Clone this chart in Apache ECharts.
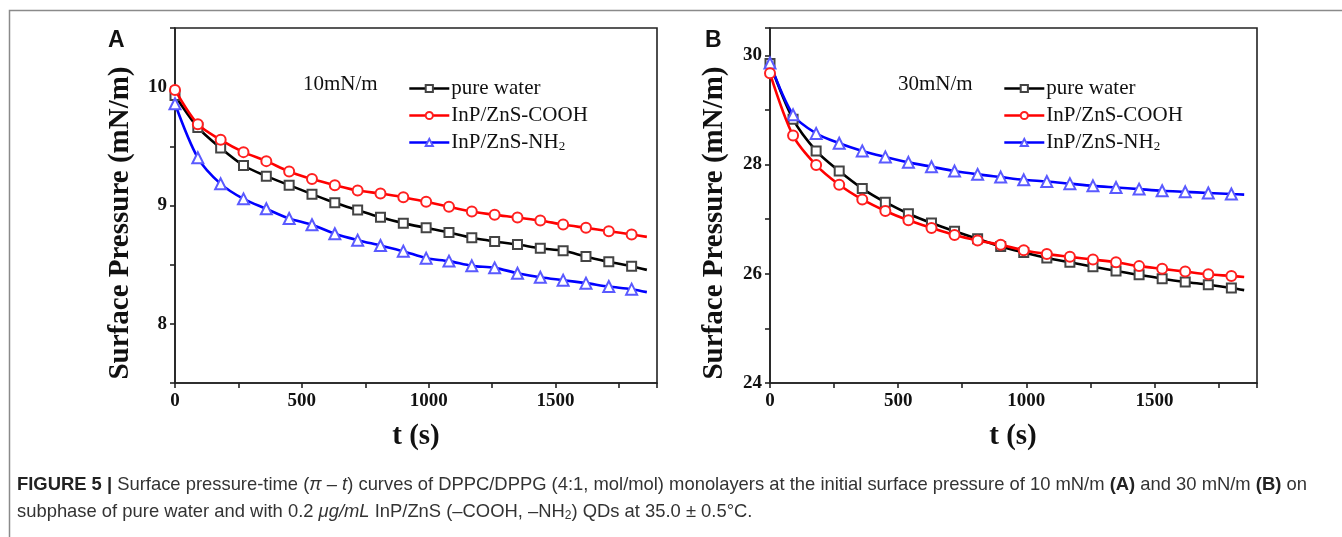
<!DOCTYPE html>
<html>
<head>
<meta charset="utf-8">
<script src="https://cdn.jsdelivr.net/npm/echarts@6/dist/echarts.min.js"></script>
<style>
html,body{margin:0;padding:0;background:#fff;}
#chart{width:1342px;height:537px;}
</style>
</head>
<body>
<div id="chart"></div>
<script>
// ---- data ----
const timesA = [0, 90, 180, 270, 360, 450, 540, 630, 720, 810, 900, 990, 1080, 1170, 1260, 1350, 1440, 1530, 1620, 1710, 1800, 1860];
const waterA = [9.93, 9.66, 9.485, 9.338, 9.248, 9.172, 9.096, 9.023, 8.961, 8.901, 8.851, 8.811, 8.772, 8.727, 8.696, 8.670, 8.639, 8.617, 8.569, 8.524, 8.487, 8.456];
const coohA  = [9.977, 9.687, 9.555, 9.451, 9.375, 9.287, 9.223, 9.172, 9.127, 9.101, 9.070, 9.031, 8.989, 8.949, 8.921, 8.899, 8.873, 8.839, 8.811, 8.783, 8.755, 8.735];
const nh2A   = [9.86, 9.403, 9.183, 9.056, 8.972, 8.890, 8.837, 8.761, 8.707, 8.662, 8.614, 8.555, 8.530, 8.490, 8.473, 8.428, 8.394, 8.369, 8.344, 8.315, 8.293, 8.268];

const timesB = [0, 90, 180, 270, 360, 450, 540, 630, 720, 810, 900, 990, 1080, 1170, 1260, 1350, 1440, 1530, 1620, 1710, 1800, 1850];
const waterB = [29.85, 28.83, 28.25, 27.88, 27.56, 27.31, 27.10, 26.93, 26.78, 26.64, 26.50, 26.39, 26.29, 26.21, 26.13, 26.05, 25.98, 25.91, 25.85, 25.80, 25.74, 25.70];
const coohB  = [29.67, 28.53, 27.99, 27.63, 27.36, 27.15, 26.98, 26.84, 26.71, 26.61, 26.53, 26.43, 26.36, 26.31, 26.26, 26.21, 26.14, 26.09, 26.04, 25.99, 25.96, 25.94];
const nh2B   = [29.86, 28.91, 28.57, 28.39, 28.25, 28.14, 28.04, 27.96, 27.88, 27.82, 27.77, 27.72, 27.69, 27.65, 27.61, 27.58, 27.55, 27.52, 27.50, 27.48, 27.46, 27.45];

const seriesNames = ['pure water', 'InP/ZnS-COOH', 'InP/ZnS-NH2'];
const xTicks = [0, 500, 1000, 1500];
const yTicksA = [8, 9, 10];
const yTicksB = [24, 26, 28, 30];

// ---- styles ----
const serif = '"Liberation Serif","Times New Roman",serif';
const lineColors = ['#000000', '#ff0000', '#0000ff'];
const markerColors = ['#444444', '#ff2020', '#5a5aff'];
const symbols = ['emptyRect', 'emptyCircle', 'emptyTriangle'];
const symbolSizes = [9, 10, 11];

function toData(times, vals) {
  return times.map((t, i) => {
    const isLastExtra = i === times.length - 1;
    return isLastExtra ? { value: [t, vals[i]], symbol: 'none' } : [t, vals[i]];
  });
}

function makeSeries(k, xi, times, vals) {
  return {
    name: seriesNames[k],
    type: 'line',
    xAxisIndex: xi,
    yAxisIndex: xi,
    data: toData(times, vals),
    smooth: 0.3,
    symbol: symbols[k],
    symbolSize: symbolSizes[k],
    showAllSymbol: true,
    lineStyle: { color: lineColors[k], width: 2.6 },
    itemStyle: { color: markerColors[k], borderWidth: 1.2 },
    emphasis: { disabled: true },
    z: 2 + (k === 1 ? 1 : 0)
  };
}

const axisLineStyle = { color: '#222', width: 1.6 };

function xAxis(gi) {
  return {
    type: 'value', gridIndex: gi, min: 0, max: 1900, interval: 250,
    axisLine: { show: true, lineStyle: axisLineStyle },
    axisTick: { show: true, length: 5, lineStyle: axisLineStyle },
    axisLabel: {
      margin: 9, fontFamily: serif, fontWeight: 'bold', fontSize: 19, color: '#111',
      formatter: v => xTicks.includes(v) ? String(v) : ''
    },
    splitLine: { show: false }
  };
}

function yAxis(gi, min, max, interval, ticks) {
  return {
    type: 'value', gridIndex: gi, min: min, max: max, interval: interval,
    axisLine: { show: true, lineStyle: axisLineStyle },
    axisTick: { show: true, length: 5, lineStyle: axisLineStyle },
    axisLabel: {
      margin: 8, fontFamily: serif, fontWeight: 'bold', fontSize: 19, color: '#111',
      formatter: v => ticks.some(t => Math.abs(t - v) < 1e-9) ? String(v) : ''
    },
    splitLine: { show: false }
  };
}

function legend(left) {
  return {
    orient: 'vertical', left: left, top: 73,
    itemWidth: 40, itemHeight: 9, itemGap: 6,
    data: seriesNames,
    selectedMode: false,
    lineStyle: { width: 2.6 },
    textStyle: {
      fontFamily: serif, fontSize: 21, color: '#111', lineHeight: 21, padding: [0, 0, 0, -3],
      rich: { sub: { fontFamily: serif, fontSize: 13, color: '#111', verticalAlign: 'bottom', padding: [16, 0, 0, 0] } }
    },
    formatter: n => n === 'InP/ZnS-NH2' ? 'InP/ZnS-NH{sub|2}' : n
  };
}

const nameFont = 'bold 29px "Liberation Serif", "Times New Roman", serif';
const capFamily = '"Liberation Sans", Arial, sans-serif';
const capSize = 18.4;
const chart = echarts.init(document.getElementById('chart'), null, { renderer: 'canvas' });
chart.setOption({
  backgroundColor: '#fff',
  animation: false,
  grid: [
    { left: 175, top: 28, width: 482, height: 355, show: true, borderColor: '#222', borderWidth: 1.6, backgroundColor: 'transparent' },
    { left: 770, top: 28, width: 487, height: 355, show: true, borderColor: '#222', borderWidth: 1.6, backgroundColor: 'transparent' }
  ],
  xAxis: [xAxis(0), xAxis(1)],
  yAxis: [yAxis(0, 7.5, 10.5, 0.5, yTicksA), yAxis(1, 24, 30.5, 1, yTicksB)],
  legend: [legend(403), legend(998)],
  series: [
    makeSeries(0, 0, timesA, waterA),
    makeSeries(1, 0, timesA, coohA),
    makeSeries(2, 0, timesA, nh2A),
    makeSeries(0, 1, timesB, waterB),
    makeSeries(1, 1, timesB, coohB),
    makeSeries(2, 1, timesB, nh2B)
  ],
  graphic: [
    { type: 'polyline', shape: { points: [[9.5, 537], [9.5, 10.5], [1342, 10.5]] }, style: { stroke: '#8a8a8a', lineWidth: 1.5, fill: null }, silent: true },
    { type: 'text', left: 108, top: 29, style: { text: 'A', font: 'bold 23px "Liberation Sans", Arial, sans-serif', fill: '#111' } },
    { type: 'text', left: 705, top: 29, style: { text: 'B', font: 'bold 23px "Liberation Sans", Arial, sans-serif', fill: '#111' } },
    { type: 'text', left: 303, top: 74, style: { text: '10mN/m', font: '21px "Liberation Serif", "Times New Roman", serif', fill: '#111' } },
    { type: 'text', left: 898, top: 74, style: { text: '30mN/m', font: '21px "Liberation Serif", "Times New Roman", serif', fill: '#111' } },
    { type: 'text', x: 121, y: 223, rotation: Math.PI / 2, style: { text: 'Surface Pressure (mN/m)', font: nameFont, fill: '#111', align: 'center', verticalAlign: 'middle' } },
    { type: 'text', x: 715, y: 223, rotation: Math.PI / 2, style: { text: 'Surface Pressure (mN/m)', font: nameFont, fill: '#111', align: 'center', verticalAlign: 'middle' } },
    { type: 'text', x: 416, y: 437, style: { text: 't (s)', font: nameFont, fill: '#111', align: 'center', verticalAlign: 'middle' } },
    { type: 'text', x: 1013, y: 437, style: { text: 't (s)', font: nameFont, fill: '#111', align: 'center', verticalAlign: 'middle' } },
    {
      type: 'text', left: 17, top: 471,
      style: {
        text: '{b|FIGURE 5 |} Surface pressure-time ({i|π – t}) curves of DPPC/DPPG (4:1, mol/mol) monolayers at the initial surface pressure of 10 mN/m {b|(A)} and 30 mN/m {b|(B)} on\n' +
              'subphase of pure water and with 0.2 {i|μg/mL} InP/ZnS (–COOH, –NH{s|2}) QDs at 35.0 ± 0.5°C.',
        font: capSize + 'px ' + capFamily,
        fill: '#333',
        lineHeight: 27,
        rich: {
          b: { fontWeight: 'bold', fontSize: capSize, fontFamily: capFamily, fill: '#222', lineHeight: 27 },
          i: { fontStyle: 'italic', fontSize: capSize, fontFamily: capFamily, fill: '#333', lineHeight: 27 },
          s: { fontSize: 12, fontFamily: capFamily, fill: '#333', lineHeight: 27, padding: [9, 0, 0, 0] }
        }
      }
    }
  ]
});
</script>
</body>
</html>
